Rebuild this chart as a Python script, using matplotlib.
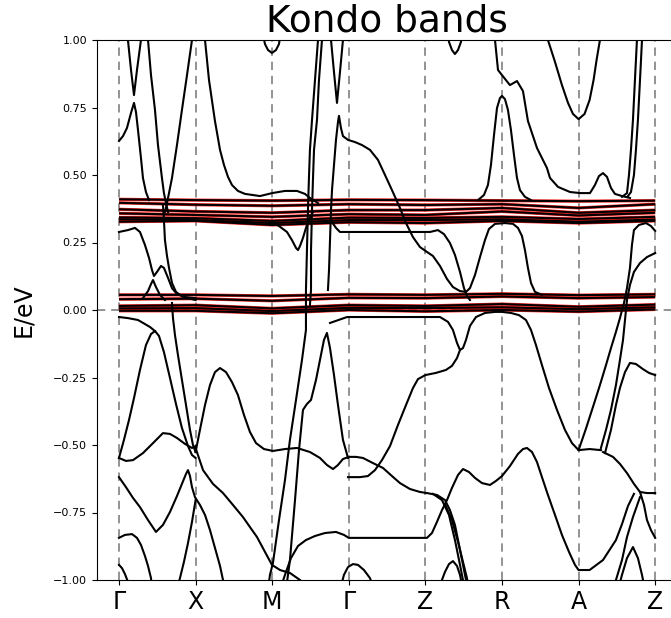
import matplotlib
matplotlib.use("Agg")
import matplotlib.pyplot as plt
import numpy as np

# ---------------- data ----------------
kpath_labels = ["Γ", "X", "M", "Γ", "Z", "R", "A", "Z"]
kpath_pos = [0, 1, 2, 3, 4, 5, 6, 7]
yticks = [-1.0, -0.75, -0.5, -0.25, 0.0, 0.25, 0.5, 0.75, 1.0]

# nearly flat (Kondo) bands, energies at the high-symmetry points
flat_k = [0, 1, 2, 3, 4, 5, 6, 7]
flat_upper = [
    [0.410, 0.407, 0.405, 0.408, 0.407, 0.405, 0.403, 0.405],
    [0.397, 0.390, 0.386, 0.392, 0.389, 0.392, 0.378, 0.392],
    [0.373, 0.365, 0.360, 0.370, 0.370, 0.378, 0.360, 0.370],
    [0.358, 0.352, 0.345, 0.355, 0.352, 0.365, 0.350, 0.360],
    [0.343, 0.340, 0.330, 0.342, 0.341, 0.345, 0.337, 0.345],
    [0.336, 0.333, 0.322, 0.333, 0.333, 0.336, 0.327, 0.335],
    [0.327, 0.330, 0.315, 0.325, 0.322, 0.330, 0.322, 0.330],
]
flat_lower = [
    [0.056, 0.056, 0.052, 0.058, 0.056, 0.060, 0.055, 0.058],
    [0.040, 0.042, 0.034, 0.045, 0.044, 0.050, 0.044, 0.048],
    [0.015, 0.018, 0.006, 0.018, 0.015, 0.022, 0.012, 0.020],
    [0.006, 0.007, -0.004, 0.008, 0.007, 0.010, 0.003, 0.010],
    [-0.003, -0.003, -0.012, 0.000, -0.005, 0.000, -0.006, 0.002],
]

# dispersive bands: (k, E) pairs
band_A = [(0, 0.626), (0.052, 0.644), (0.104, 0.674), (0.157, 0.73), (0.196, 0.767),
          (0.222, 0.733), (0.248, 0.667), (0.287, 0.563), (0.313, 0.489), (0.352, 0.437), (0.392, 0.407)]
band_B = [(0.104, 1.056), (0.117, 1.0), (0.157, 0.889), (0.196, 0.796), (0.235, 0.889), (0.287, 1.0), (0.3, 1.056)]
band_C = [(0.366, 1.056), (0.379, 1.0), (0.418, 0.87), (0.47, 0.741), (0.509, 0.611), (0.561, 0.489),
          (0.587, 0.433), (0.614, 0.396), (0.64, 0.363)]
band_D = [(0.966, 1.056), (0.953, 1.0), (0.888, 0.87), (0.822, 0.741), (0.757, 0.611), (0.692, 0.489),
          (0.653, 0.433), (0.627, 0.396), (0.6, 0.363)]
band_F = [(0, 0.289), (0.117, 0.296), (0.209, 0.304), (0.274, 0.289), (0.339, 0.241), (0.392, 0.193),
          (0.431, 0.148), (0.457, 0.126), (0.496, 0.141), (0.548, 0.163), (0.587, 0.156), (0.64, 0.119),
          (0.692, 0.081), (0.757, 0.059), (0.862, 0.048), (1.0, 0.044)]
band_H = [(0.574, 0.389), (0.587, 0.333), (0.6, 0.259), (0.627, 0.2), (0.653, 0.156), (0.692, 0.1),
          (0.744, 0.067), (0.836, 0.048), (1.0, 0.037)]
band_G = [(0.313, 0.044), (0.379, 0.07), (0.418, 0.096), (0.444, 0.111), (0.483, 0.085), (0.535, 0.056), (0.6, 0.037)]
band_E = [(1.11, 1.056), (1.123, 1.0), (1.175, 0.852), (1.253, 0.7), (1.319, 0.593), (1.371, 0.537),
          (1.423, 0.493), (1.475, 0.463), (1.553, 0.441), (1.645, 0.43), (1.841, 0.422), (2.0, 0.433),
          (2.167, 0.441), (2.324, 0.441), (2.428, 0.43), (2.493, 0.415), (2.598, 0.396)]
band_Mtop = [(1.867, 1.037), (1.906, 0.985), (1.945, 0.963), (1.997, 0.952), (2.05, 0.963), (2.089, 0.985), (2.115, 1.037)]
band_dip = [(2.0, 0.326), (2.089, 0.311), (2.193, 0.289), (2.258, 0.259), (2.311, 0.23), (2.337, 0.222),
            (2.363, 0.237), (2.402, 0.267), (2.441, 0.304), (2.493, 0.341), (2.533, 0.363)]
band_S1 = [(2.611, 1.056), (2.598, 1.0), (2.559, 0.852), (2.52, 0.704), (2.493, 0.593), (2.48, 0.489),
           (2.467, 0.37), (2.454, 0.222), (2.441, 0.074), (2.441, -0.074), (2.389, -0.185), (2.311, -0.333),
           (2.232, -0.481), (2.167, -0.63), (2.089, -0.778), (2.01, -0.937), (1.971, -0.981), (1.945, -1.037)]
band_S2 = [(2.663, 1.056), (2.65, 1.0), (2.611, 0.852), (2.585, 0.704), (2.546, 0.593), (2.533, 0.489),
           (2.52, 0.37), (2.507, 0.222), (2.507, 0.074), (2.493, 0.019)]
band_S3 = [(2.18, -1.037), (2.232, -0.926), (2.298, -0.704), (2.35, -0.519), (2.402, -0.37), (2.454, -0.348),
           (2.507, -0.333), (2.572, -0.259), (2.624, -0.185), (2.676, -0.111), (2.715, -0.085), (2.755, -0.141),
           (2.807, -0.241), (2.859, -0.352), (2.924, -0.481), (2.99, -0.548)]
band_G2top = [(2.755, 1.056), (2.768, 1.0), (2.807, 0.881), (2.846, 0.767), (2.885, 0.881), (2.924, 1.0), (2.937, 1.056)]
band_G2low = [(2.728, 0.074), (2.742, 0.148), (2.755, 0.259), (2.768, 0.37), (2.781, 0.444), (2.807, 0.537),
              (2.833, 0.63), (2.859, 0.696), (2.872, 0.719), (2.898, 0.674), (2.924, 0.644), (2.99, 0.63),
              (3.081, 0.622), (3.172, 0.611), (3.277, 0.593), (3.381, 0.556), (3.473, 0.5), (3.564, 0.444),
              (3.668, 0.378), (3.747, 0.322), (3.838, 0.27), (3.93, 0.233), (4.021, 0.215), (4.099, 0.2),
              (4.191, 0.163), (4.282, 0.115), (4.36, 0.085), (4.452, 0.07), (4.53, 0.067), (4.582, 0.081),
              (4.648, 0.13), (4.713, 0.196), (4.778, 0.259), (4.83, 0.3), (4.909, 0.319), (5.039, 0.322),
              (5.144, 0.319), (5.209, 0.304), (5.261, 0.274), (5.3, 0.222), (5.339, 0.156), (5.379, 0.1),
              (5.431, 0.067), (5.522, 0.056)]
band_029 = [(2.78, 0.326), (2.833, 0.304), (2.885, 0.289), (3.146, 0.289), (3.407, 0.289), (3.668, 0.289),
            (3.93, 0.289), (4.06, 0.289), (4.164, 0.296), (4.243, 0.281), (4.321, 0.248), (4.386, 0.204),
            (4.452, 0.141), (4.504, 0.081), (4.543, 0.052), (4.582, 0.037)]
band_V = [(2.755, -0.048), (2.977, -0.026), (3.407, -0.026), (3.93, -0.026), (4.191, -0.026), (4.295, -0.044),
          (4.36, -0.074), (4.413, -0.122), (4.452, -0.148), (4.491, -0.141), (4.53, -0.111), (4.582, -0.059),
          (4.661, -0.026), (4.778, -0.011), (4.909, -0.007), (5.0, -0.007), (5.117, -0.011), (5.222, -0.019),
          (5.313, -0.037), (5.379, -0.074), (5.444, -0.13), (5.522, -0.204), (5.614, -0.289), (5.718, -0.37),
          (5.822, -0.444), (5.914, -0.493), (6.0, -0.519), (6.144, -0.515), (6.292, -0.519)]
band_q = [(2.99, -0.619), (3.146, -0.619), (3.25, -0.615), (3.342, -0.593), (3.433, -0.556), (3.538, -0.504),
          (3.642, -0.426), (3.747, -0.352), (3.838, -0.289), (3.903, -0.256), (4.0, -0.241), (4.138, -0.233),
          (4.269, -0.222), (4.347, -0.207), (4.413, -0.178), (4.452, -0.148)]
band_Rpeak = [(4.687, 0.407), (4.765, 0.426), (4.817, 0.463), (4.856, 0.537), (4.896, 0.648), (4.935, 0.748),
              (4.974, 0.785), (5.0, 0.793), (5.039, 0.781), (5.078, 0.741), (5.117, 0.667), (5.157, 0.574),
              (5.196, 0.489), (5.235, 0.444), (5.3, 0.419), (5.379, 0.407)]
band_RA = [(4.889, 1.056), (4.909, 1.0), (4.948, 0.889), (5.0, 0.87), (5.104, 0.833), (5.196, 0.848),
           (5.274, 0.811), (5.339, 0.7), (5.457, 0.6), (5.587, 0.526), (5.627, 0.489), (5.731, 0.456),
           (5.888, 0.437), (6.018, 0.433), (6.149, 0.433), (6.214, 0.463), (6.266, 0.496), (6.319, 0.507),
           (6.371, 0.493), (6.423, 0.452), (6.475, 0.43), (6.567, 0.422), (6.671, 0.415)]
band_Ztop = [(4.282, 1.056), (4.308, 0.993), (4.347, 0.963), (4.386, 0.948), (4.426, 0.963), (4.465, 0.993), (4.491, 1.056)]
band_Atop = [(5.574, 1.056), (5.6, 1.0), (5.692, 0.919), (5.783, 0.833), (5.862, 0.767), (5.927, 0.726),
             (6.0, 0.707), (6.078, 0.726), (6.144, 0.778), (6.196, 0.852), (6.235, 0.926), (6.279, 1.0), (6.292, 1.056)]
band_P1 = [(6.775, 1.056), (6.762, 1.0), (6.736, 0.852), (6.71, 0.704), (6.684, 0.593), (6.658, 0.5),
           (6.632, 0.433), (6.567, 0.419)]
band_P2 = [(6.841, 1.056), (6.828, 1.0), (6.802, 0.852), (6.775, 0.704), (6.749, 0.593), (6.723, 0.5),
           (6.684, 0.437), (6.645, 0.422)]
band_T1 = [(6.0, -0.519), (6.091, -0.444), (6.188, -0.359), (6.279, -0.278), (6.358, -0.204), (6.423, -0.141),
           (6.488, -0.081), (6.54, -0.03), (6.593, 0.026), (6.632, 0.081), (6.671, 0.156), (6.697, 0.241),
           (6.723, 0.296), (6.788, 0.315), (6.88, 0.322), (6.945, 0.311), (7.0, 0.293)]
band_T2 = [(6.292, -0.511), (6.358, -0.444), (6.423, -0.37), (6.488, -0.278), (6.54, -0.185), (6.58, -0.111),
           (6.606, -0.037), (6.632, 0.037), (6.671, 0.093), (6.723, 0.141), (6.802, 0.174), (6.893, 0.196), (7.0, 0.211)]
band_AZlow = [(6.345, -0.53), (6.423, -0.444), (6.488, -0.352), (6.54, -0.289), (6.606, -0.23), (6.671, -0.196),
              (6.749, -0.2), (6.841, -0.219), (6.919, -0.233), (7.0, -0.241)]
band_AZ2 = [(6.319, -0.526), (6.449, -0.544), (6.54, -0.57), (6.632, -0.604), (6.723, -0.644), (6.802, -0.674),
            (6.893, -0.678), (7.0, -0.678)]
band_AZ3 = [(6.802, -0.674), (6.854, -0.722), (6.893, -0.778), (6.945, -0.815), (7.0, -0.844)]
band_AZ4 = [(6.436, -1.037), (6.488, -1.0), (6.567, -0.926), (6.632, -0.841), (6.71, -0.767), (6.802, -0.693)]
band_AZpeak = [(6.514, -1.037), (6.567, -0.981), (6.632, -0.919), (6.71, -0.878), (6.775, -0.919),
               (6.828, -0.981), (6.867, -1.037)]
band_r = [(2.102, -1.037), (2.167, -0.981), (2.245, -0.919), (2.337, -0.874), (2.441, -0.852), (2.559, -0.837),
          (2.689, -0.826), (2.833, -0.822), (2.937, -0.833), (3.0, -0.844), (3.277, -0.844), (3.668, -0.844),
          (4.021, -0.844), (4.086, -0.826), (4.151, -0.785), (4.217, -0.741), (4.282, -0.704), (4.347, -0.659),
          (4.426, -0.611), (4.491, -0.589), (4.569, -0.6), (4.648, -0.622), (4.739, -0.641), (4.843, -0.648),
          (4.922, -0.633), (5.0, -0.615), (5.104, -0.578), (5.209, -0.533), (5.274, -0.515), (5.326, -0.511),
          (5.392, -0.526), (5.457, -0.563), (5.522, -0.619), (5.6, -0.685), (5.692, -0.759), (5.783, -0.833),
          (5.875, -0.896), (5.953, -0.944), (6.0, -0.963), (6.144, -0.963), (6.319, -0.926), (6.488, -0.852),
          (6.567, -0.793), (6.645, -0.726), (6.723, -0.681)]
band_K = [(1.0, -0.511), (1.097, -0.593), (1.227, -0.644), (1.358, -0.678), (1.488, -0.722), (1.619, -0.767),
          (1.71, -0.804), (1.802, -0.841), (1.906, -0.896), (1.997, -0.944), (2.102, -0.963), (2.232, -0.974),
          (2.363, -1.0), (2.428, -1.019)]
band_L = [(0.692, 0.026), (0.705, -0.03), (0.731, -0.093), (0.77, -0.167), (0.822, -0.259), (0.875, -0.352),
          (0.927, -0.444), (0.966, -0.5), (1.0, -0.526)]
band_J = [(0, -0.548), (0.065, -0.481), (0.131, -0.407), (0.196, -0.326), (0.274, -0.222), (0.352, -0.13),
          (0.418, -0.089), (0.47, -0.078), (0.522, -0.096), (0.587, -0.156), (0.666, -0.252), (0.744, -0.348),
          (0.822, -0.437), (0.901, -0.504), (0.953, -0.537), (1.0, -0.548)]
band_Jtop = [(0, -0.026), (0.117, -0.03), (0.248, -0.037), (0.339, -0.052), (0.405, -0.063), (0.47, -0.078)]
band_I = [(0, -0.548), (0.091, -0.559), (0.183, -0.556), (0.313, -0.53), (0.444, -0.493), (0.574, -0.456),
          (0.666, -0.459), (0.757, -0.474), (0.862, -0.496), (0.953, -0.511), (1.0, -0.504)]
band_M = [(1.0, -0.526), (1.057, -0.444), (1.123, -0.352), (1.188, -0.278), (1.253, -0.23), (1.319, -0.215),
          (1.397, -0.23), (1.475, -0.267), (1.553, -0.315), (1.632, -0.389), (1.71, -0.452), (1.789, -0.493),
          (1.893, -0.515), (2.01, -0.522), (2.167, -0.515), (2.324, -0.511), (2.493, -0.526), (2.624, -0.548),
          (2.715, -0.574), (2.794, -0.589), (2.859, -0.574), (2.924, -0.552), (3.0, -0.544)]
band_p = [(3.0, -0.544), (3.094, -0.544), (3.185, -0.548), (3.316, -0.567), (3.446, -0.585), (3.564, -0.615),
          (3.668, -0.641), (3.799, -0.663), (3.93, -0.674), (4.021, -0.678), (4.151, -0.685), (4.256, -0.704),
          (4.321, -0.741), (4.386, -0.796), (4.439, -0.87), (4.491, -0.944), (4.53, -1.0), (4.556, -1.037)]
band_Z1 = [(4.099, -0.681), (4.217, -0.704), (4.308, -0.759), (4.386, -0.852), (4.452, -0.944), (4.504, -1.019)]
band_Z2 = [(4.256, -0.719), (4.347, -0.778), (4.426, -0.859), (4.491, -0.933), (4.543, -0.993), (4.569, -1.037)]
band_Zarch = [(4.191, -1.019), (4.256, -0.97), (4.308, -0.941), (4.36, -0.93), (4.413, -0.948), (4.452, -0.981), (4.491, -1.037)]
band_G2arch = [(2.885, -1.037), (2.937, -0.981), (2.99, -0.952), (3.055, -0.941), (3.12, -0.944), (3.198, -0.963),
               (3.277, -0.993), (3.329, -1.037)]
band_N = [(0, -0.619), (0.091, -0.656), (0.183, -0.696), (0.274, -0.73), (0.379, -0.778), (0.483, -0.822),
          (0.574, -0.796), (0.666, -0.748), (0.757, -0.689), (0.822, -0.644), (0.875, -0.607), (0.901, -0.593),
          (0.927, -0.615), (0.953, -0.656), (0.992, -0.693), (1.057, -0.722), (1.123, -0.759), (1.188, -0.815),
          (1.253, -0.881), (1.319, -0.948), (1.358, -1.0), (1.397, -1.044)]
band_O = [(0, -0.844), (0.078, -0.833), (0.17, -0.83), (0.235, -0.844), (0.287, -0.87), (0.339, -0.911),
          (0.379, -0.948), (0.418, -0.993), (0.431, -1.037)]
band_P = [(0, -0.944), (0.039, -0.956), (0.078, -0.978), (0.117, -1.007), (0.131, -1.037)]
band_Xrise = [(0.757, -1.037), (0.796, -0.993), (0.848, -0.933), (0.901, -0.863), (0.953, -0.785), (1.0, -0.704)]

dispersive = [band_A, band_B, band_C, band_D, band_F, band_H, band_G, band_E, band_Mtop, band_dip,
              band_S1, band_S2, band_S3, band_G2top, band_G2low, band_029, band_V, band_q, band_Rpeak,
              band_RA, band_Ztop, band_Atop, band_P1, band_P2, band_T1, band_T2, band_AZlow, band_AZ2,
              band_AZ3, band_AZ4, band_AZpeak, band_r, band_K, band_L, band_J, band_Jtop, band_I, band_M,
              band_p, band_Z1, band_Z2, band_Zarch, band_G2arch, band_N, band_O, band_P, band_Xrise]

# ---------------- plot ----------------
fig = plt.figure(figsize=(6.71, 6.18), dpi=100)
ax = fig.add_axes([97 / 671, 38 / 618, 580 / 671, 540 / 618])

dash = (0, (5, 3.5))
for kp in kpath_pos:
    ax.axvline(kp, color="gray", ls=dash, lw=1.2, zorder=1)
ax.axhline(0.0, color="gray", ls=dash, lw=1.2, zorder=1)

for fl in flat_upper + flat_lower:
    ax.plot(flat_k, fl, color="red", lw=2.3, alpha=0.85, zorder=2, solid_capstyle="butt")
for fl in flat_upper + flat_lower:
    ax.plot(flat_k, fl, color="black", lw=1.5, zorder=3, solid_capstyle="butt")

for b in dispersive:
    ks, es = zip(*b)
    ax.plot(ks, es, color="black", lw=1.5, zorder=3, solid_joinstyle="round")

ax.set_xlim(-0.287, 7.285)
ax.set_ylim(-1.0, 1.0)
ax.set_xticks(kpath_pos)
ax.set_xticklabels(kpath_labels, fontsize=17)
ax.set_yticks(yticks)
ax.tick_params(axis="y", labelsize=8)
ax.set_ylabel("E/eV", fontsize=17)
ax.yaxis.set_label_coords(-0.107, 0.5)
ax.set_title("Kondo bands", fontsize=27, pad=5)

fig.savefig("out.png", dpi=100)
